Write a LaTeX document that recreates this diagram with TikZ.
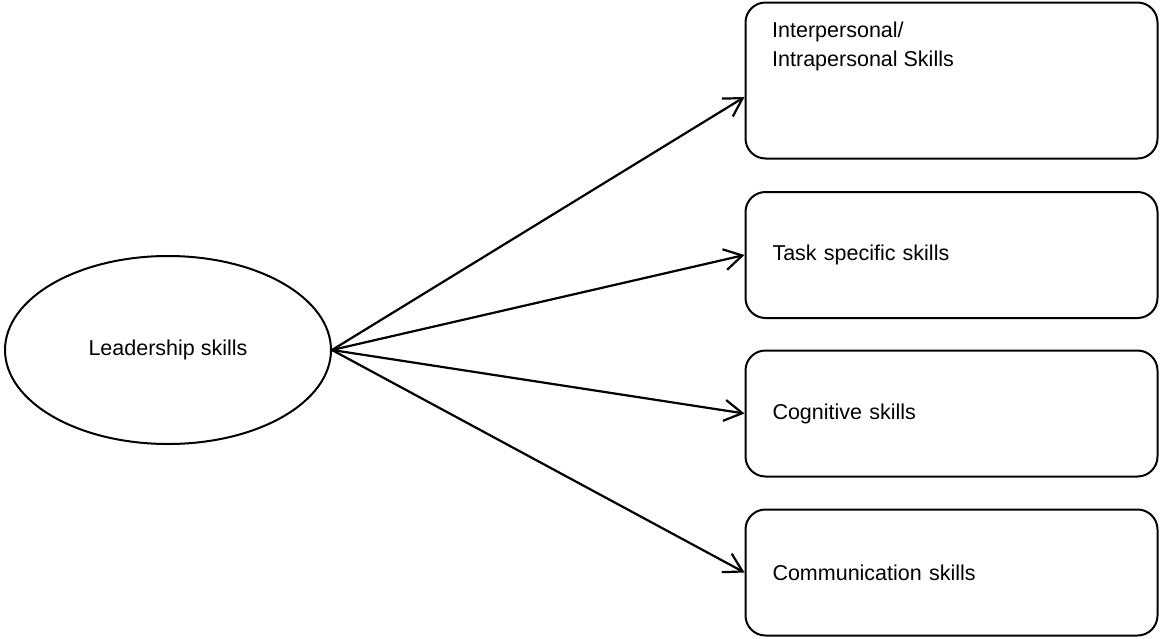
\documentclass[tikz,border=0pt]{standalone}
\usepackage{fontspec}
\setmainfont{Liberation Sans}
\usetikzlibrary{shapes.geometric,arrows.meta,calc}
\begin{document}
\begin{tikzpicture}[x=1pt,y=-1pt,
  every node/.style={font=\fontsize{21.5}{29}\selectfont},
  lead/.style={draw,line width=2pt,ellipse,inner sep=0pt,minimum width=326pt,minimum height=188pt},
  skillbox/.style={draw,line width=2pt,rounded corners=20pt,minimum width=412pt,text width=358pt,align=left,inner xsep=27pt,inner ysep=0pt},
  conn/.style={line width=2.2pt,-{Straight Barb[length=18pt,width=21pt,line width=2.2pt]}}]
\useasboundingbox (0,0) rectangle (1160,638);
\node[lead] (L) at (168,350) {Leadership skills};
\node[skillbox,minimum height=156pt] (B1) at (951.5,80.5) {};
\node[anchor=north west,align=left,inner sep=0pt] (T1) at (772,22) {Interpersonal/\\Intrapersonal Skills};
\node[skillbox,minimum height=126pt] (B2) at (951.5,255) {Task specific skills};
\node[skillbox,minimum height=126pt] (B3) at (951.5,413.5) {Cognitive skills};
\node[skillbox,minimum height=126pt] (B4) at (951.5,572.5) {Communication skills};
\coordinate (A1) at ($(B1.west)+(0,16.5)$);
\draw[conn] (L.east) -- (A1);
\draw[conn] (L.east) -- (B2.west);
\draw[conn] (L.east) -- (B3.west);
\draw[conn] (L.east) -- (B4.west);
\end{tikzpicture}
\end{document}
